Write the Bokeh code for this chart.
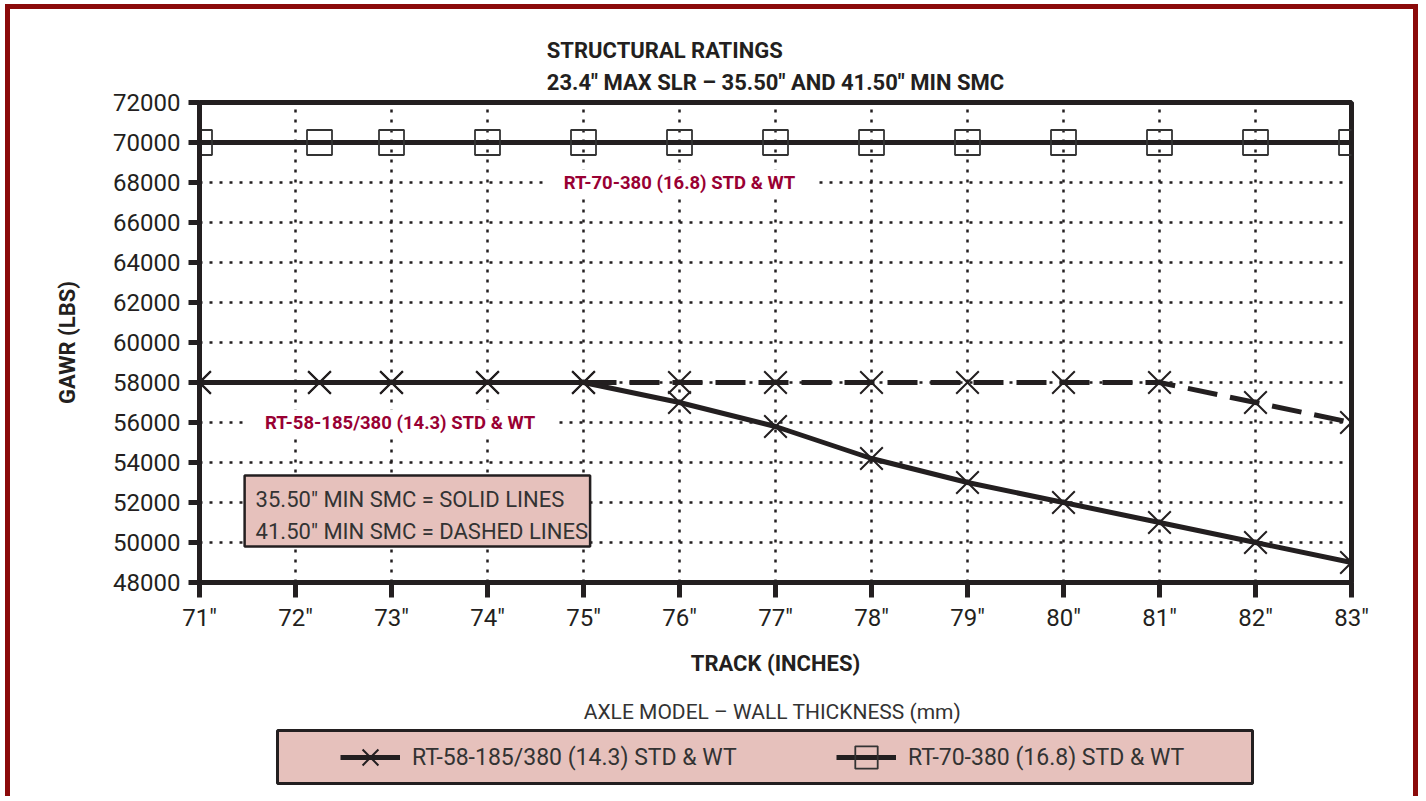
from bokeh.plotting import figure
from bokeh.models import Range1d, FixedTicker, Legend, LegendItem, Label, BoxAnnotation
from bokeh.layouts import column
from bokeh.embed import file_html
from bokeh.resources import INLINE

# ---- data ----
track = [71, 72.25, 73, 74, 75, 76, 77, 78, 79, 80, 81, 82, 83]
rt58_solid = [58000, 58000, 58000, 58000, 58000, 57000, 55800, 54200, 53000, 52000, 51000, 50000, 49000]
rt58_dashed = [58000, 58000, 58000, 58000, 58000, 58000, 58000, 58000, 58000, 58000, 58000, 57000, 56000]
rt70 = [70000, 70000, 70000, 70000, 70000, 70000, 70000, 70000, 70000, 70000, 70000, 70000, 70000]

x_ticks = [71, 72, 73, 74, 75, 76, 77, 78, 79, 80, 81, 82, 83]
x_tick_labels = ['71"', '72"', '73"', '74"', '75"', '76"', '77"', '78"', '79"', '80"', '81"', '82"', '83"']
y_ticks = [48000, 50000, 52000, 54000, 56000, 58000, 60000, 62000, 64000, 66000, 68000, 70000, 72000]
y_tick_labels = ["48000", "50000", "52000", "54000", "56000", "58000", "60000", "62000",
                 "64000", "66000", "68000", "70000", "72000"]

series_names = ["RT-58-185/380 (14.3) STD & WT", "RT-70-380 (16.8) STD & WT"]

FONT = "Roboto"
INK = "#231f20"
RED = "#990033"
PINK = "#e6c1bc"
FRAME_RED = "#8b0a0a"

W = 1403
LEFT, RIGHT = 189, 62

# ================= main chart =================
p = figure(width=W, height=680, x_range=Range1d(71, 83), y_range=Range1d(48000, 72000),
           output_backend="svg", toolbar_location=None,
           min_border_left=LEFT, min_border_right=RIGHT, min_border_top=93, min_border_bottom=107)
p.background_fill_color = "white"
p.border_fill_color = "white"
p.outline_line_color = INK
p.outline_line_width = 5

p.title.text = 'STRUCTURAL RATINGS\n23.4" MAX SLR \u2013 35.50" AND 41.50" MIN SMC'
p.title.align = "center"
p.title.text_font = FONT
p.title.text_font_size = "22px"
p.title.text_font_style = "bold"
p.title.text_color = INK
p.title.text_line_height = 1.25
p.title.standoff = 16

for ax in (p.xaxis[0], p.yaxis[0]):
    ax.axis_line_width = 5
    ax.axis_line_color = INK
    ax.major_tick_line_width = 5
    ax.major_tick_line_color = INK
    ax.major_tick_in = 0
    ax.minor_tick_line_color = None
    ax.major_label_text_font = FONT
    ax.major_label_text_font_size = "24px"
    ax.major_label_text_color = INK
    ax.axis_label_text_font = FONT
    ax.axis_label_text_font_size = "22px"
    ax.axis_label_text_font_style = "bold"
    ax.axis_label_text_color = INK

p.xaxis.ticker = FixedTicker(ticks=x_ticks)
p.xaxis.major_label_overrides = dict(zip(x_ticks, x_tick_labels))
p.xaxis.major_tick_out = 15
p.xaxis.major_label_standoff = 6
p.xaxis.axis_label = "TRACK (INCHES)"
p.xaxis.axis_label_standoff = 16

p.yaxis.ticker = FixedTicker(ticks=y_ticks)
p.yaxis.major_label_overrides = dict(zip(y_ticks, y_tick_labels))
p.yaxis.major_tick_out = 11
p.yaxis.major_label_standoff = 8
p.yaxis.axis_label = "GAWR (LBS)"
p.yaxis.axis_label_standoff = 30

p.xgrid.ticker = FixedTicker(ticks=x_ticks)
p.ygrid.ticker = FixedTicker(ticks=y_ticks)
for g in (p.xgrid[0], p.ygrid[0]):
    g.grid_line_color = INK
    g.grid_line_width = 2.5
    g.grid_line_dash = "3 7"

p.line(track, rt58_dashed, line_width=5, line_color=INK, line_dash="30 13")
p.scatter(track, rt58_dashed, marker="x", size=32, line_width=2, line_color=INK)
p.line(track, rt58_solid, line_width=5, line_color=INK)
p.scatter(track, rt58_solid, marker="x", size=32, line_width=2, line_color=INK)
p.line(track, rt70, line_width=5, line_color=INK)
p.scatter(track, rt70, marker="square", size=25, line_width=1.8, line_color="#333333", fill_color=None)

p.add_layout(Label(x=76, y=68000, text=series_names[1], text_align="center", text_baseline="middle",
                   text_font=FONT, text_font_size="18.5px", text_font_style="bold", text_color=RED,
                   background_fill_color="white", padding=(20, 2)))
p.add_layout(Label(x=73.09, y=56000, text=series_names[0], text_align="center", text_baseline="middle",
                   text_font=FONT, text_font_size="18.5px", text_font_style="bold", text_color=RED,
                   background_fill_color="white", padding=(18, 2)))
p.add_layout(Label(x=71.47, y=53350, anchor="top_left", text_align="left",
                   text='35.50" MIN SMC = SOLID LINES\n41.50" MIN SMC = DASHED LINES',
                   text_font=FONT, text_font_size="22px", text_color="#333333", text_line_height=1.28,
                   background_fill_color=PINK, border_line_color=INK, border_line_width=2.5,
                   padding=(11, 2, 11, 3)))

# ================= legend strip (frame aligned with the chart above) =================
q = figure(width=W, height=112, x_range=Range1d(LEFT, W - RIGHT), y_range=Range1d(0, 112),
           output_backend="svg", toolbar_location=None, title=None,
           x_axis_location=None, y_axis_location=None,
           min_border_left=LEFT, min_border_right=RIGHT, min_border_top=0, min_border_bottom=0)
q.outline_line_color = None
q.background_fill_color = "white"
q.border_fill_color = "white"
q.xgrid.visible = False
q.ygrid.visible = False

# legend renderers use the same series (they fall outside this strip's ranges, only the key is shown)
k58 = q.line(track, rt58_solid, line_width=5, line_color=INK)
k58m = q.scatter(track, rt58_solid, marker="x", size=32, line_width=2, line_color=INK)
k70 = q.line(track, rt70, line_width=5, line_color=INK)
k70m = q.scatter(track, rt70, marker="square", size=25, line_width=1.8, line_color="#333333",
                 fill_color=None)

q.add_layout(Label(x=762, y=90, text="AXLE MODEL \u2013 WALL THICKNESS (mm)", text_align="center",
                   text_baseline="middle", text_font=FONT, text_font_size="21px", text_color="#333333"))
q.add_layout(BoxAnnotation(left=267, right=1242, bottom=18, top=71, fill_color=PINK, fill_alpha=1,
                           line_color=INK, line_width=3, line_alpha=1))
legend = Legend(items=[LegendItem(label=series_names[0], renderers=[k58, k58m]),
                       LegendItem(label=series_names[1], renderers=[k70, k70m])],
                orientation="horizontal", location=(141, 16),
                background_fill_alpha=0, border_line_alpha=0,
                glyph_width=60, glyph_height=56, label_standoff=12, padding=0, margin=0, spacing=0,
                label_width=424, label_text_font=FONT, label_text_font_size="23px",
                label_text_color="#333333")
q.add_layout(legend, "center")

layout = column(p, q, spacing=0,
                styles={"margin-left": "10px", "margin-top": "9px",
                        "box-shadow": f"-5px -5px 0 0 {FRAME_RED}, 5px -5px 0 0 {FRAME_RED}"})

open("out.html", "w").write(file_html(layout, INLINE))
